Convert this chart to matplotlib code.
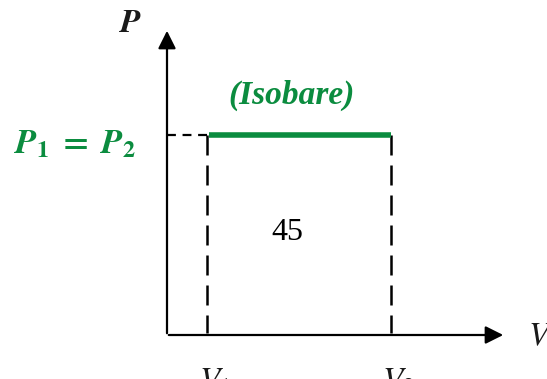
import matplotlib.pyplot as plt

# diagram values (figure pixel units)
origin = (167, 335)
v_end = 506
p_end = 28
V1 = 207
V2 = 391
P_level = 135
V_labels = ['V_1', 'V_2']
area_label = '45'
curve_label = '(Isobare)'
green = '#0b8c3f'

plt.rcParams['mathtext.fontset'] = 'stix'

fig = plt.figure(figsize=(5.47, 3.79), dpi=100)
ax = fig.add_axes([0, 0, 1, 1])
ax.set_xlim(0, 547)
ax.set_ylim(379, 0)
ax.axis('off')

# axes with arrows
ax.annotate('', xy=(origin[0], p_end), xytext=(origin[0], origin[1] + 1),
            arrowprops=dict(arrowstyle='-|>', color='black', lw=1.6, mutation_scale=27))
ax.annotate('', xy=(v_end, origin[1]), xytext=(origin[0] - 1, origin[1]),
            arrowprops=dict(arrowstyle='-|>', color='black', lw=1.6, mutation_scale=27))

# dashed guides
ax.plot([origin[0], V1], [P_level, P_level], color='black', lw=1.6,
        linestyle=(0, (4, 3)))
for v in (V1, V2):
    ax.plot([v, v], [P_level, origin[1] - 2], color='black', lw=1.8,
            linestyle=(0, (8, 4)))

# isobaric line
ax.plot([V1 + 2, V2], [P_level, P_level], color=green, lw=4, solid_capstyle='butt')

# texts
ax.text(131, 22, r'$\mathbfit{P}$', fontsize=24, ha='center', va='center', color='#1a1a1a')
ax.text(540, 336, r'$\mathit{V}$', fontsize=24, ha='center', va='center', color='#1a1a1a')
for v, lab in zip((V1, V2), V_labels):
    ax.text(v + 8, 381, r'$\mathit{%s}$' % lab, fontsize=24, ha='center', va='center',
            color='#1a1a1a')
ax.text(75, 143, r'$\mathbfit{P}_{\mathbf{1}}\;\mathbf{=}\;\mathbfit{P}_{\mathbf{2}}$',
        fontsize=25, ha='center', va='center', color=green)
ax.text(292, 95, curve_label, fontsize=24, ha='center', va='center', color=green,
        family='Liberation Serif', weight='bold', style='italic')
ax.text(287, 232, area_label, fontsize=23, ha='center', va='center', color='black',
        family='Liberation Serif')

fig.savefig('out.png', dpi=100)
